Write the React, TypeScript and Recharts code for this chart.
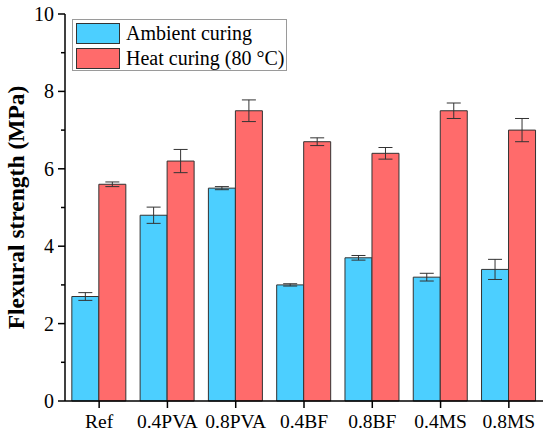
import { BarChart, Bar, XAxis, YAxis, ErrorBar, Legend } from 'recharts'

const categories = ['Ref', '0.4PVA', '0.8PVA', '0.4BF', '0.8BF', '0.4MS', '0.8MS']
const ambient = [2.7, 4.8, 5.5, 3.0, 3.7, 3.2, 3.4]
const ambientErr = [0.1, 0.21, 0.04, 0.03, 0.06, 0.1, 0.26]
const heat = [5.6, 6.2, 7.5, 6.7, 6.4, 7.5, 7.0]
const heatErr = [0.06, 0.3, 0.28, 0.1, 0.15, 0.2, 0.3]
// major ticks carry labels, odd values are minor ticks
const yTicks = [0, 1, 2, 3, 4, 5, 6, 7, 8, 9, 10]

const data = categories.map((name, i) => ({
  name,
  ambient: ambient[i],
  ambientErr: ambientErr[i],
  heat: heat[i],
  heatErr: heatErr[i],
}))

const FONT = '"Liberation Serif", "Times New Roman", serif'
const BLUE = '#4ccfff'
const RED = '#ff6b6b'
const FRAME = '#b4b4b4'
const TICK_SIZE = 7
const TICK_MARGIN = 4

function YTick({ x, y, payload }: any) {
  const major = payload.value % 2 === 0
  const axisX = x + TICK_SIZE + TICK_MARGIN
  return (
    <g>
      <line
        x1={axisX - (major ? TICK_SIZE : 4)}
        x2={axisX}
        y1={y}
        y2={y}
        stroke="#000"
        strokeWidth={1.5}
      />
      {major && (
        <text x={x} y={y} dy="0.35em" textAnchor="end" style={{ fontFamily: FONT, fontSize: 20, fill: '#000' }}>
          {payload.value}
        </text>
      )}
    </g>
  )
}

function LegendBox({ payload }: { payload?: Array<{ value: string; color?: string }> }) {
  return (
    <div
      style={{
        border: `1px solid #9a9a9a`,
        width: 213,
        height: 50,
        boxSizing: 'content-box',
        fontFamily: FONT,
        fontSize: 20,
        color: '#000',
        background: '#fff',
      }}
    >
      {(payload ?? []).map((p, i) => (
        <div key={p.value} style={{ display: 'flex', alignItems: 'center', height: 21, marginTop: i === 0 ? 3 : 4, marginLeft: 3 }}>
          <div style={{ width: 42, height: 19, background: p.color, border: '1px solid #333' }} />
          <span style={{ marginLeft: 6, lineHeight: '21px', whiteSpace: 'nowrap' }}>{p.value}</span>
        </div>
      ))}
    </div>
  )
}

export default function App() {
  return (
    <div style={{ position: 'absolute', left: 0, top: 0, background: '#fff' }}>
      <BarChart
        width={550}
        height={436}
        data={data}
        margin={{ top: 14, right: 7, left: 0, bottom: 0 }}
        barCategoryGap="10%"
        barGap={0}
      >
        <XAxis
          dataKey="name"
          height={35}
          tickSize={7}
          tickMargin={6}
          stroke="#000"
          strokeWidth={1.5}
          tick={{ fontSize: 19.5, fontFamily: FONT, fill: '#000' }}
        />
        <XAxis
          xAxisId="top"
          dataKey="name"
          orientation="top"
          height={0}
          tick={false}
          tickLine={false}
          stroke={FRAME}
          strokeWidth={1.5}
        />
        <YAxis
          domain={[0, 10]}
          ticks={yTicks}
          interval={0}
          width={65}
          tickSize={TICK_SIZE}
          tickMargin={TICK_MARGIN}
          tickLine={false}
          stroke="#000"
          strokeWidth={1.5}
          tick={<YTick />}
          label={{
            content: ({ viewBox }: any) => {
              const cy = viewBox.y + viewBox.height / 2
              return (
                <text
                  x={24}
                  y={cy}
                  transform={`rotate(-90, 24, ${cy})`}
                  textAnchor="middle"
                  style={{ fontFamily: FONT, fontSize: 23.5, fontWeight: 'bold', fill: '#000' }}
                >
                  Flexural strength (MPa)
                </text>
              )
            },
          }}
        />
        <YAxis
          yAxisId="right"
          orientation="right"
          domain={[0, 10]}
          width={0}
          tick={false}
          tickLine={false}
          stroke={FRAME}
          strokeWidth={1.5}
        />
        <Legend
          layout="vertical"
          align="center"
          verticalAlign="middle"
          wrapperStyle={{ left: 72, top: 19, width: 215 }}
          content={(props: any) => <LegendBox payload={props.payload} />}
        />
        <Bar dataKey="ambient" name="Ambient curing" fill={BLUE} stroke="#333" strokeWidth={1} isAnimationActive={false}>
          <ErrorBar dataKey="ambientErr" width={7} stroke="#333" strokeWidth={1} />
        </Bar>
        <Bar dataKey="heat" name="Heat curing (80 °C)" fill={RED} stroke="#333" strokeWidth={1} isAnimationActive={false}>
          <ErrorBar dataKey="heatErr" width={7} stroke="#333" strokeWidth={1} />
        </Bar>
      </BarChart>
    </div>
  )
}
